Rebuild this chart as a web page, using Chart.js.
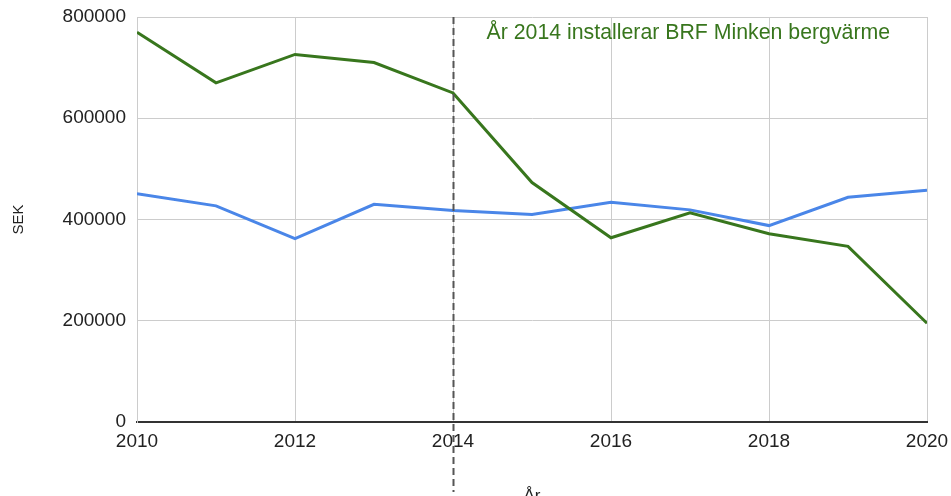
<!DOCTYPE html>
<html>
<head>
<meta charset="utf-8">
<script src="https://cdn.jsdelivr.net/npm/chart.js@4.4.1/dist/chart.umd.min.js"></script>
<style>
  html, body { margin: 0; padding: 0; background: #ffffff; }
  #wrap { width: 951px; height: 496px; position: relative; }
</style>
</head>
<body>
<div id="wrap"><canvas id="c"></canvas></div>
<script>
// ---- data ----
const years = [2010, 2011, 2012, 2013, 2014, 2015, 2016, 2017, 2018, 2019, 2020];
const greenSeries = [770000, 670000, 726000, 710000, 650000, 473000, 364000, 413000, 372000, 347000, 195000];
const blueSeries  = [451000, 427000, 362000, 430000, 418000, 410000, 434000, 419000, 388000, 444000, 458000];
const yTicks = [0, 200000, 400000, 600000, 800000];
const xTicks = [2010, 2012, 2014, 2016, 2018, 2020];
const markerYear = 2014;
const annotationText = 'År 2014 installerar BRF Minken bergvärme';
const yTitle = 'SEK';
const xTitle = 'År';

const FONT = "'Liberation Sans', Arial, Helvetica, sans-serif";
const GREEN = '#38761d';
const BLUE = '#4a86e8';

const toPoints = (vals) => years.map((y, i) => ({ x: y, y: vals[i] }));

const zeroPad = (scale) => {
  scale.paddingTop = 0; scale.paddingBottom = 0;
  scale.paddingLeft = 0; scale.paddingRight = 0;
};

const markerPlugin = {
  id: 'marker',
  afterDatasetsDraw(chart) {
    const { ctx, chartArea, scales } = chart;
    const x = Math.round(scales.x.getPixelForValue(markerYear)) + 0.5;
    ctx.save();
    ctx.strokeStyle = '#555555';
    ctx.lineWidth = 2;
    ctx.setLineDash([7, 4]);
    ctx.beginPath();
    ctx.moveTo(x, chartArea.top);
    ctx.lineTo(x, chartArea.bottom + 70);
    ctx.stroke();
    ctx.restore();

    ctx.save();
    ctx.fillStyle = GREEN;
    ctx.font = "21.3px " + FONT;
    ctx.textAlign = 'left';
    ctx.textBaseline = 'alphabetic';
    ctx.fillText(annotationText, x + 33, chartArea.top + 22);
    ctx.restore();
  }
};

new Chart(document.getElementById('c'), {
  type: 'line',
  data: {
    datasets: [
      {
        label: 'Serie 1',
        data: toPoints(greenSeries),
        borderColor: GREEN,
        backgroundColor: GREEN,
        borderWidth: 3,
        pointRadius: 0,
        tension: 0
      },
      {
        label: 'Serie 2',
        data: toPoints(blueSeries),
        borderColor: BLUE,
        backgroundColor: BLUE,
        borderWidth: 3,
        pointRadius: 0,
        tension: 0
      }
    ]
  },
  options: {
    responsive: true,
    maintainAspectRatio: false,
    animation: false,
    events: [],
    layout: { padding: { top: 17, right: 24, left: 0, bottom: 0 } },
    plugins: {
      legend: { display: false },
      tooltip: { enabled: false },
      title: { display: false }
    },
    scales: {
      x: {
        type: 'linear',
        min: years[0],
        max: years[years.length - 1],
        afterBuildTicks(scale) { scale.ticks = xTicks.map(v => ({ value: v })); },
        afterFit(scale) { scale.height = 74; zeroPad(scale); },
        ticks: {
          padding: 8,
          color: '#222222',
          font: { family: FONT, size: 19 },
          maxRotation: 0,
          autoSkip: false,
          callback: (v) => String(v)
        },
        grid: { color: '#cccccc', lineWidth: 1, drawTicks: false },
        border: { color: '#333333', width: 2 },
        title: {
          display: true,
          text: xTitle,
          color: '#222222',
          font: { family: FONT, size: 17 },
          padding: { top: 0, bottom: -11 }
        }
      },
      y: {
        min: 0,
        max: 800000,
        afterBuildTicks(scale) { scale.ticks = yTicks.map(v => ({ value: v })); },
        afterFit(scale) { scale.width = 137; zeroPad(scale); },
        ticks: {
          padding: 11,
          color: '#222222',
          font: { family: FONT, size: 19 },
          callback: (v) => String(v)
        },
        grid: { color: '#cccccc', lineWidth: 1, drawTicks: false },
        border: { color: '#cccccc', width: 1 },
        title: {
          display: true,
          text: yTitle,
          color: '#222222',
          font: { family: FONT, size: 15 },
          padding: { top: 10, bottom: 0 }
        }
      }
    }
  },
  plugins: [markerPlugin]
});
</script>
</body>
</html>
